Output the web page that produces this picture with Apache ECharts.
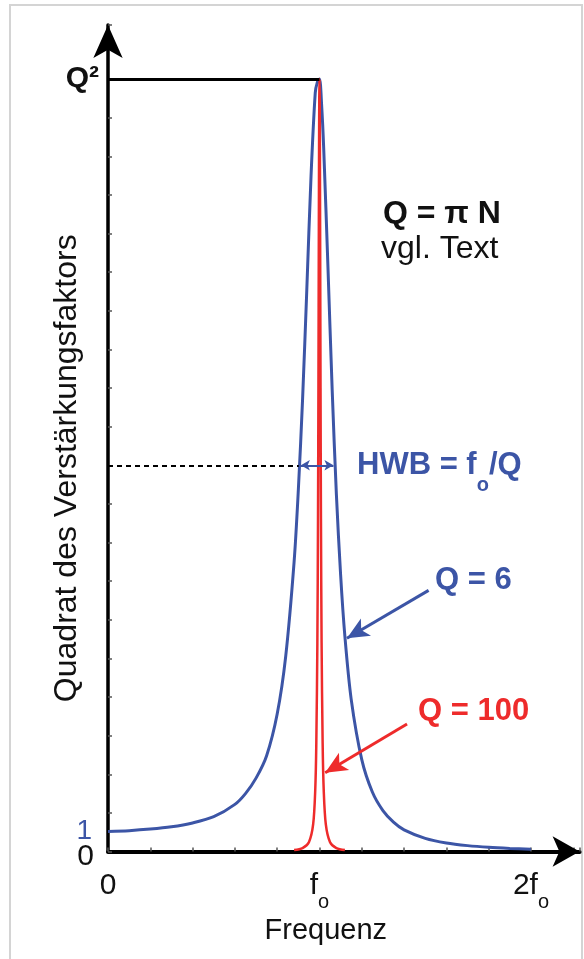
<!DOCTYPE html>
<html>
<head>
<meta charset="utf-8">
<script src="https://cdn.jsdelivr.net/npm/echarts@6/dist/echarts.min.js"></script>
<style>
html, body { margin: 0; padding: 0; background: #fff; }
#container { width: 584px; height: 959px; }
</style>
</head>
<body>
<div id="container"></div>
<script>
var FONT = '"Liberation Sans", Arial, Helvetica, sans-serif';
var BLUE = '#3c55a6';
var RED = '#ee2b2b';
var INK = '#111';

// Frequenz in Einheiten von f0, Ordinate als Bruchteil von Q^2
var blueFreq = [0, 0.1, 0.2, 0.3, 0.4, 0.5, 0.6, 0.65, 0.7, 0.75, 0.8, 0.84, 0.88, 0.9, 0.92, 0.94, 0.96, 0.98, 0.99, 1.0,
  1.01, 1.02, 1.04, 1.06, 1.08, 1.1, 1.12, 1.15, 1.2, 1.25, 1.3, 1.35, 1.4, 1.5, 1.6, 1.7, 1.8, 1.9, 2.0];
var blueGain = [0.026, 0.027, 0.029, 0.032, 0.037, 0.045, 0.061, 0.075, 0.095, 0.124, 0.178, 0.252, 0.375, 0.468, 0.585, 0.727, 0.874, 0.982, 0.996, 1.0,
  0.967, 0.91, 0.757, 0.598, 0.462, 0.358, 0.279, 0.197, 0.119, 0.077, 0.053, 0.038, 0.028, 0.017, 0.011, 0.0076, 0.0054, 0.004, 0.003];

var redFreq = [0.88, 0.92, 0.95, 0.97, 0.98, 0.985, 0.99, 0.993, 0.995, 0.997, 0.998, 0.999, 1.0,
  1.001, 1.002, 1.003, 1.005, 1.007, 1.01, 1.015, 1.02, 1.03, 1.05, 1.08, 1.12];
var redGain = [0.002, 0.0045, 0.012, 0.035, 0.08, 0.14, 0.27, 0.43, 0.6, 0.81, 0.91, 0.975, 1.0,
  0.975, 0.91, 0.81, 0.6, 0.43, 0.27, 0.14, 0.08, 0.035, 0.012, 0.0045, 0.002];

var xTickLabels = { 0: '0', 1: '{f|f}{o|o}', 2: '{f|2f}{o|o}' };
var yTickLabels = { 0: '{z|0}', 1: '{b|Q²}' };

var halfLevel = 0.5;
var halfWidth = [0.912, 1.066];          // Flanken der Q=6-Kurve bei halber Hoehe
var q6Arrow = [[1.516, 0.338], [1.13, 0.276]];
var q100Arrow = [[1.414, 0.165], [1.027, 0.102]];

function pairs(xs, ys) {
  return xs.map(function (x, i) { return [x, ys[i]]; });
}

function pick(table, v) {
  for (var k in table) {
    if (Math.abs(v - Number(k)) < 1e-6) return table[k];
  }
  return '';
}

var myChart = echarts.init(document.getElementById('container'));

var option = {
  animation: false,
  backgroundColor: '#fff',
  textStyle: { fontFamily: FONT },
  grid: { left: 108, right: 4.4, top: 25, bottom: 107.5, containLabel: false },
  xAxis: {
    type: 'value',
    min: 0,
    max: 2.23,
    interval: 0.2,
    name: 'Frequenz',
    nameLocation: 'middle',
    nameGap: 65,
    nameMoveOverlap: false,
    nameTextStyle: { fontSize: 29, color: INK, fontFamily: FONT, padding: [0, 36, 0, 0] },
    axisLine: { lineStyle: { color: '#000', width: 4 }, symbol: ['none', 'arrow'], symbolSize: [23, 27] },
    axisTick: { inside: true, length: 4, lineStyle: { color: '#555', width: 1.5 } },
    splitLine: { show: false },
    axisLabel: {
      margin: 19,
      color: INK,
      fontSize: 30,
      fontFamily: FONT,
      formatter: function (v) { return pick(xTickLabels, v); },
      rich: {
        f: { fontSize: 30, fontFamily: FONT, color: INK, padding: [0, 0, 13, 0] },
        o: { fontSize: 20, fontFamily: FONT, color: INK, padding: [21, 0, 0, 0] }
      }
    }
  },
  yAxis: {
    type: 'value',
    min: 0,
    max: 1.07,
    interval: 0.05,
    name: 'Quadrat des Verstärkungsfaktors',
    nameLocation: 'middle',
    nameRotate: 90,
    nameGap: 25,
    nameMoveOverlap: false,
    nameTextStyle: { fontSize: 32, color: INK, fontFamily: FONT, padding: [0, 60, 0, 0] },
    axisLine: { lineStyle: { color: '#000', width: 3.5 }, symbol: ['none', 'arrow'], symbolSize: [22, 33] },
    axisTick: { inside: true, length: 4, lineStyle: { color: '#555', width: 1.5 } },
    splitLine: { show: false },
    axisLabel: {
      margin: 14,
      color: INK,
      fontSize: 30,
      fontFamily: FONT,
      formatter: function (v) { return pick(yTickLabels, v); },
      rich: {
        z: { fontSize: 30, fontFamily: FONT, color: INK, padding: [10, 0, 0, 0] },
        b: { fontSize: 30, fontWeight: 'bold', fontFamily: FONT, color: INK, padding: [0, -5, 0, 0] }
      }
    }
  },
  series: [
    {
      name: 'Q = 6',
      type: 'line',
      data: pairs(blueFreq, blueGain),
      showSymbol: false,
      symbol: 'none',
      smooth: 0.3,
      lineStyle: { color: BLUE, width: 3 },
      z: 3,
      markPoint: {
        silent: true,
        symbol: 'circle',
        symbolSize: 0,
        data: [{
          coord: [0, blueGain[0]],
          label: { show: true, formatter: '1', position: 'left', distance: 16, color: BLUE, fontSize: 28, fontFamily: FONT }
        }]
      },
      markLine: {
        silent: true,
        animation: false,
        symbol: ['none', 'none'],
        label: { show: false },
        emphasis: { disabled: true },
        data: [
          [
            { coord: [0, 1], lineStyle: { color: '#000', width: 3, type: 'solid' } },
            { coord: [1, 1] }
          ],
          [
            { coord: [0, halfLevel], lineStyle: { color: '#000', width: 2, type: [5, 4] } },
            { coord: [halfWidth[0] - 0.01, halfLevel] }
          ],
          [
            { coord: [halfWidth[0], halfLevel], symbol: 'arrow', symbolSize: [8, 9], lineStyle: { color: BLUE, width: 2, type: 'solid' } },
            { coord: [halfWidth[1], halfLevel], symbol: 'arrow', symbolSize: [8, 9] }
          ],
          [
            { coord: q6Arrow[0], symbol: 'none', lineStyle: { color: BLUE, width: 3, type: 'solid' } },
            { coord: q6Arrow[1], symbol: 'arrow', symbolSize: [15, 22] }
          ]
        ]
      }
    },
    {
      name: 'Q = 100',
      type: 'line',
      data: pairs(redFreq, redGain),
      showSymbol: false,
      symbol: 'none',
      smooth: 0.3,
      lineStyle: { color: RED, width: 2.5 },
      z: 4,
      markLine: {
        silent: true,
        animation: false,
        symbol: ['none', 'none'],
        label: { show: false },
        emphasis: { disabled: true },
        data: [
          [
            { coord: q100Arrow[0], symbol: 'none', lineStyle: { color: RED, width: 3, type: 'solid' } },
            { coord: q100Arrow[1], symbol: 'arrow', symbolSize: [15, 22] }
          ]
        ]
      }
    }
  ],
  graphic: [
    {
      type: 'rect',
      silent: true,
      z: -10,
      shape: { x: 10, y: 5, width: 572, height: 970 },
      style: { fill: 'none', stroke: '#d4d4d4', lineWidth: 2 }
    },
    {
      type: 'text', left: 383, top: 198, silent: true,
      style: { text: 'Q = π N', fill: INK, font: 'bold 32px ' + FONT }
    },
    {
      type: 'text', left: 381, top: 233, silent: true,
      style: { text: 'vgl. Text', fill: INK, font: '32px ' + FONT }
    },
    {
      type: 'text', left: 357, top: 450, silent: true,
      style: {
        text: '{a|HWB = f}{o|o}{a|/Q}',
        rich: {
          a: { fill: BLUE, font: 'bold 31px ' + FONT, padding: [0, 0, 14, 0] },
          o: { fill: BLUE, font: 'bold 20px ' + FONT, padding: [25, 0, 0, 0] }
        }
      }
    },
    {
      type: 'text', left: 435, top: 565, silent: true,
      style: { text: 'Q = 6', fill: BLUE, font: 'bold 31px ' + FONT }
    },
    {
      type: 'text', left: 418, top: 696, silent: true,
      style: { text: 'Q = 100', fill: RED, font: 'bold 31px ' + FONT }
    }
  ]
};

myChart.setOption(option);
</script>
</body>
</html>
